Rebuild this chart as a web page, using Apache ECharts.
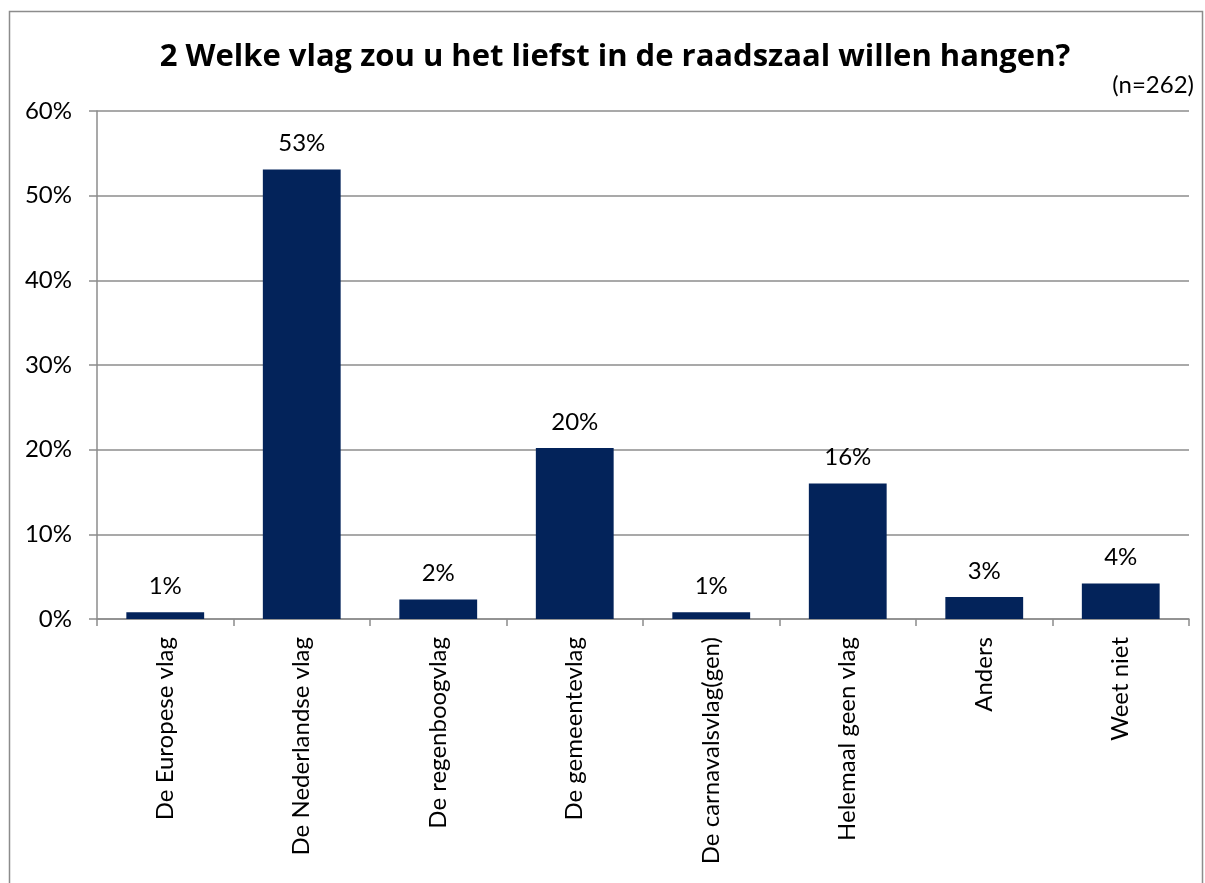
<!DOCTYPE html>
<html>
<head>
<meta charset="utf-8">
<script src="https://cdn.jsdelivr.net/npm/echarts@6/dist/echarts.min.js"></script>
<style>
  html, body { margin: 0; padding: 0; background: #fff; }
  #chart { width: 1205px; height: 883px; }
</style>
</head>
<body>
<div id="chart"></div>
<script>
const categories = ['De Europese vlag', 'De Nederlandse vlag', 'De regenboogvlag', 'De gemeentevlag',
                    'De carnavalsvlag(gen)', 'Helemaal geen vlag', 'Anders', 'Weet niet'];
const values = [0.8, 53.1, 2.3, 20.2, 0.8, 16.0, 2.6, 4.2];
const yTicks = [0, 10, 20, 30, 40, 50, 60];

const fontFamily = 'Lato, "Open Sans", sans-serif';
const gray = '#8c8c8c';

let myChart = echarts.init(document.getElementById('chart'));
var option = {
    backgroundColor: '#fff',
    textStyle: { fontFamily: fontFamily },
    title: [{
        text: '2 Welke vlag zou u het liefst in de raadszaal willen hangen?',
        left: 610, top: 37, textAlign: 'center',
        textStyle: { fontSize: 31, fontWeight: 'bold', color: '#000', fontFamily: '"Open Sans", sans-serif' }
    }, {
        text: '(n=262)',
        right: 6, top: 68,
        textStyle: { fontSize: 24, fontWeight: 'normal', color: '#000', fontFamily: fontFamily }
    }],
    graphic: [{
        type: 'rect',
        shape: { x: 9.5, y: 11.5, width: 1193, height: 900 },
        style: { fill: 'none', stroke: gray, lineWidth: 1.5 },
        silent: true
    }],
    grid: { left: 97, right: 16, top: 111, bottom: 264 },
    xAxis: {
        type: 'category',
        data: categories,
        axisLine: { lineStyle: { color: gray, width: 1.5 } },
        axisTick: { show: true, length: 7, lineStyle: { color: gray, width: 1.5 } },
        axisLabel: { rotate: 90, interval: 0, margin: 18, fontSize: 24, color: '#000', fontFamily: fontFamily }
    },
    yAxis: {
        type: 'value',
        min: yTicks[0], max: yTicks[yTicks.length - 1], interval: 10,
        axisLine: { show: true, lineStyle: { color: gray, width: 1.5 } },
        axisTick: { show: true, length: 8, lineStyle: { color: gray, width: 1.5 } },
        splitLine: { lineStyle: { color: gray, width: 1.5 } },
        axisLabel: { formatter: '{value}%', margin: 25, fontSize: 24, color: '#000', fontFamily: fontFamily }
    },
    series: [{
        type: 'bar',
        data: values,
        barCategoryGap: '43%',
        itemStyle: { color: '#03235a' },
        label: {
            show: true, position: 'top', distance: 14,
            fontSize: 24, color: '#000', fontFamily: fontFamily,
            formatter: p => Math.round(p.value) + '%'
        },
        silent: true
    }],
    animation: false
};
myChart.setOption(option);
</script>
</body>
</html>
